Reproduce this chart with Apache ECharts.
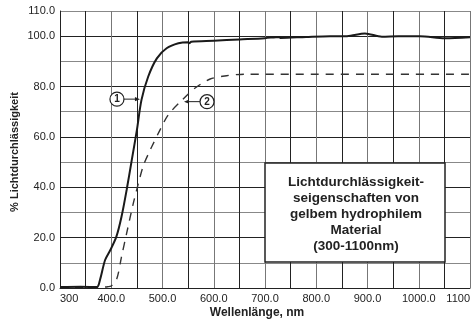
<!DOCTYPE html>
<html>
<head>
<meta charset="utf-8">
<script src="https://cdn.jsdelivr.net/npm/echarts@6/dist/echarts.min.js"></script>
<style>
  html, body { margin: 0; padding: 0; background: #fff; }
  #chart { width: 474px; height: 321px; }
</style>
</head>
<body>
<div id="chart"></div>
<script>
// Kurve 1 (durchgezogen)
var wave1 = [300, 340, 372, 378, 388, 398, 410, 420, 430, 440, 450, 459, 472, 489, 508, 531, 550, 553, 556, 600, 650, 700, 728, 730, 780, 827, 860, 895, 928, 960, 1002, 1051, 1100];
var trans1 = [0.4, 0.5, 0.4, 3.2, 11.1, 15.0, 20.4, 28.3, 38.9, 50.8, 62.7, 74.7, 83.9, 91.2, 95.2, 97.2, 97.6, 97.2, 97.8, 98.2, 98.7, 99.2, 99.7, 99.3, 99.7, 100.0, 100.0, 101.1, 99.8, 100.0, 100.0, 99.2, 99.6];
// Kurve 2 (gestrichelt)
var wave2 = [300, 380, 393, 400, 411, 420, 430, 443, 453, 463, 476, 479, 495, 511, 537, 563, 593, 625, 660, 1100];
var trans2 = [0.3, 0.3, 0.5, 0.8, 3.8, 12.4, 21.7, 33.6, 41.6, 48.8, 54.8, 56.1, 62.7, 68.7, 74.4, 79.3, 83.0, 84.3, 84.9, 84.9];

var boxLines = ['Lichtdurchlässigkeit-', 'seigenschaften von', 'gelbem hydrophilem', 'Material', '(300-1100nm)'];

function pairs(xs, ys) {
    var out = [];
    for (var i = 0; i < xs.length; i++) out.push([xs[i], ys[i]]);
    return out;
}

var font = '"Liberation Sans", Arial, sans-serif';
var chart = echarts.init(document.getElementById('chart'));

var option = {
    animation: false,
    grid: { left: 60, right: 4, top: 11, bottom: 33, containLabel: false },
    xAxis: {
        type: 'value', min: 300, max: 1100, interval: 50,
        axisLine: { show: true, lineStyle: { color: '#222', width: 1 } },
        axisTick: { show: false },
        splitLine: { show: true, lineStyle: { color: ['#777', '#222'], width: 1 } },
        axisLabel: {
            margin: 5, color: '#222', fontSize: 11, fontFamily: font,
            showMinLabel: true, showMaxLabel: true,
            alignMinLabel: 'left', alignMaxLabel: 'right',
            formatter: function (v) {
                if (v % 100 !== 0) return '';
                if (v === 300 || v === 1100) return String(v);
                return v.toFixed(1);
            }
        }
    },
    yAxis: {
        type: 'value', min: 0, max: 110, interval: 10,
        axisLine: { show: true, lineStyle: { color: '#222', width: 1 } },
        axisTick: { show: false },
        splitLine: { show: true, lineStyle: { color: ['#222', '#888'], width: 1 } },
        axisLabel: {
            margin: 5, color: '#222', fontSize: 11, fontFamily: font,
            showMaxLabel: true,
            formatter: function (v) {
                if (v % 20 === 0 || v === 110) return v.toFixed(1);
                return '';
            }
        }
    },
    series: [
        {
            type: 'line', data: pairs(wave2, trans2), showSymbol: false, smooth: 0.3,
            lineStyle: { color: '#333', width: 1.4, type: [8, 7] }, z: 3
        },
        {
            type: 'line', data: pairs(wave1, trans1), showSymbol: false, smooth: 0.3,
            lineStyle: { color: '#1a1a1a', width: 2 }, z: 4
        }
    ]
};
chart.setOption(option);

// Beschriftungen
var graphics = [];
graphics.push({
    type: 'text', z: 10, x: 257, y: 313,
    style: { text: 'Wellenlänge, nm', x: 0, y: 0, align: 'center', verticalAlign: 'middle',
        font: 'bold 12px ' + font, fill: '#222' }
});
graphics.push({
    type: 'text', z: 10, x: 15, y: 152, rotation: Math.PI / 2,
    style: { text: '% Lichtdurchlässigkeit', x: 0, y: 0, align: 'center', verticalAlign: 'middle',
        font: 'bold 11px ' + font, fill: '#222' }
});
// Legendenkasten
graphics.push({
    type: 'rect', z: 10,
    shape: { x: 265, y: 163, width: 180, height: 99 },
    style: { fill: '#fff', stroke: '#222', lineWidth: 1.5 }
});
for (var i = 0; i < boxLines.length; i++) {
    graphics.push({
        type: 'text', z: 11, x: 356, y: 182 + i * 16,
        style: { text: boxLines[i], x: 0, y: 0, align: 'center', verticalAlign: 'middle',
            font: 'bold 13.5px ' + font, fill: '#222' }
    });
}

// Kreismarken mit Pfeilen
function marker(label, tip, dir) {
    var p = chart.convertToPixel({ gridIndex: 0 }, tip);
    var cx = p[0] - dir * 23;
    var cy = p[1];
    graphics.push({ type: 'circle', z: 12, shape: { cx: cx, cy: cy, r: 7 },
        style: { fill: '#fff', stroke: '#222', lineWidth: 1.2 } });
    graphics.push({ type: 'text', z: 13, x: cx, y: cy + 0.5,
        style: { text: label, x: 0, y: 0, align: 'center', verticalAlign: 'middle',
            font: 'bold 10px ' + font, fill: '#222' } });
    graphics.push({ type: 'line', z: 12,
        shape: { x1: cx + dir * 7, y1: cy, x2: p[0] - dir * 4, y2: cy },
        style: { stroke: '#222', lineWidth: 1 } });
    graphics.push({ type: 'polygon', z: 12,
        shape: { points: [[p[0], cy], [p[0] - dir * 5, cy - 2.2], [p[0] - dir * 5, cy + 2.2]] },
        style: { fill: '#222' } });
}
marker('1', [456, 75], 1);
marker('2', [542, 74], -1);

chart.setOption({ graphic: graphics });
</script>
</body>
</html>
